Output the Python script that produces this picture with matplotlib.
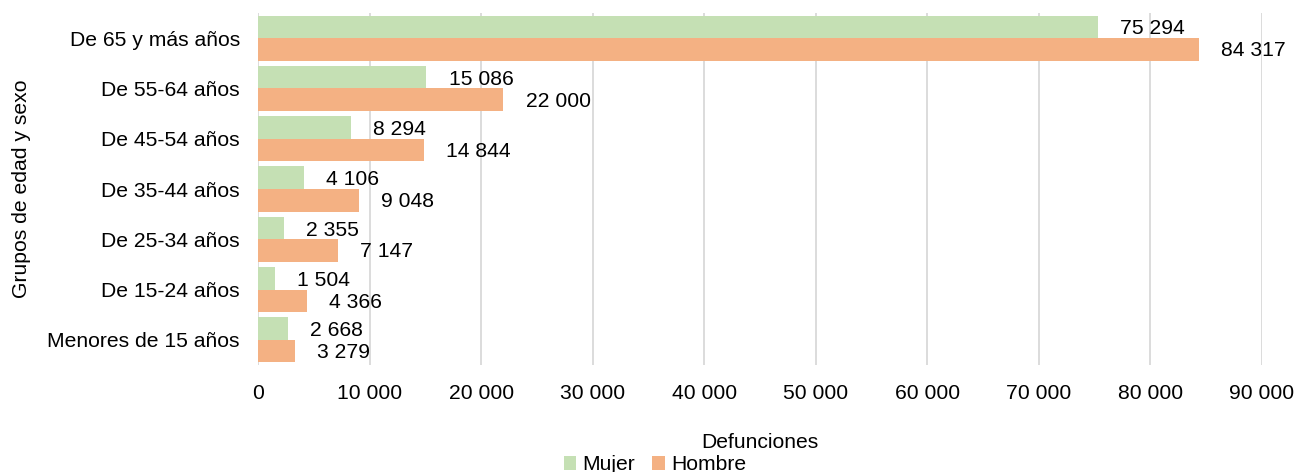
import matplotlib
matplotlib.use("Agg")
import matplotlib.pyplot as plt
import numpy as np

plt.rcParams['font.family'] = ['Liberation Sans', 'DejaVu Sans']

categories = ["De 65 y más años", "De 55-64 años", "De 45-54 años", "De 35-44 años",
              "De 25-34 años", "De 15-24 años", "Menores de 15 años"]
mujer = [75294, 15086, 8294, 4106, 2355, 1504, 2668]
hombre = [84317, 22000, 14844, 9048, 7147, 4366, 3279]
xticks = list(range(0, 90001, 10000))

def fmt(v):
    return f"{v:,}".replace(",", " ")

FS = 15.2
fig = plt.figure(figsize=(13.02, 4.72), dpi=100)
ax = fig.add_axes([258/1302, 1 - 365/472, (1262-258)/1302, (365-13)/472])

n = len(categories)
y = np.arange(n)
h = 0.45
green = "#C5E0B4"
orange = "#F4B183"
ax.barh(y - h/2, mujer, height=h, color=green, label="Mujer", zorder=2)
ax.barh(y + h/2, hombre, height=h, color=orange, label="Hombre", zorder=2)

for yi, v in zip(y, mujer):
    ax.annotate(fmt(v), (v, yi - h/2), xytext=(16, -1.5), textcoords="offset points",
                va="center", ha="left", fontsize=FS, color="#000000", zorder=3)
for yi, v in zip(y, hombre):
    ax.annotate(fmt(v), (v, yi + h/2), xytext=(16, -1.0), textcoords="offset points",
                va="center", ha="left", fontsize=FS, color="#000000", zorder=3)

ax.set_ylim(n - 0.5, -0.5)
ax.set_xlim(0, 90000)
ax.set_yticks(y)
ax.set_yticklabels(categories, fontsize=FS)
ax.set_xticks(xticks)
ax.set_xticklabels([fmt(t) for t in xticks], fontsize=FS)
ax.tick_params(axis='y', length=0, pad=13)
ax.tick_params(axis='x', length=0, pad=14)
ax.grid(axis='x', color="#D9D9D9", linewidth=1.3, zorder=0)
for s in ax.spines.values():
    s.set_visible(False)

ax.set_xlabel("Defunciones", fontsize=FS, labelpad=21)
ax.set_ylabel("Grupos de edad y sexo", fontsize=FS, labelpad=12)

fig.legend(loc="lower center", bbox_to_anchor=(0.503, -0.045), ncol=2, frameon=False,
           fontsize=FS, handlelength=0.6, handleheight=0.6, columnspacing=0.8,
           handletextpad=0.3)

fig.savefig("out.png", dpi=100)
